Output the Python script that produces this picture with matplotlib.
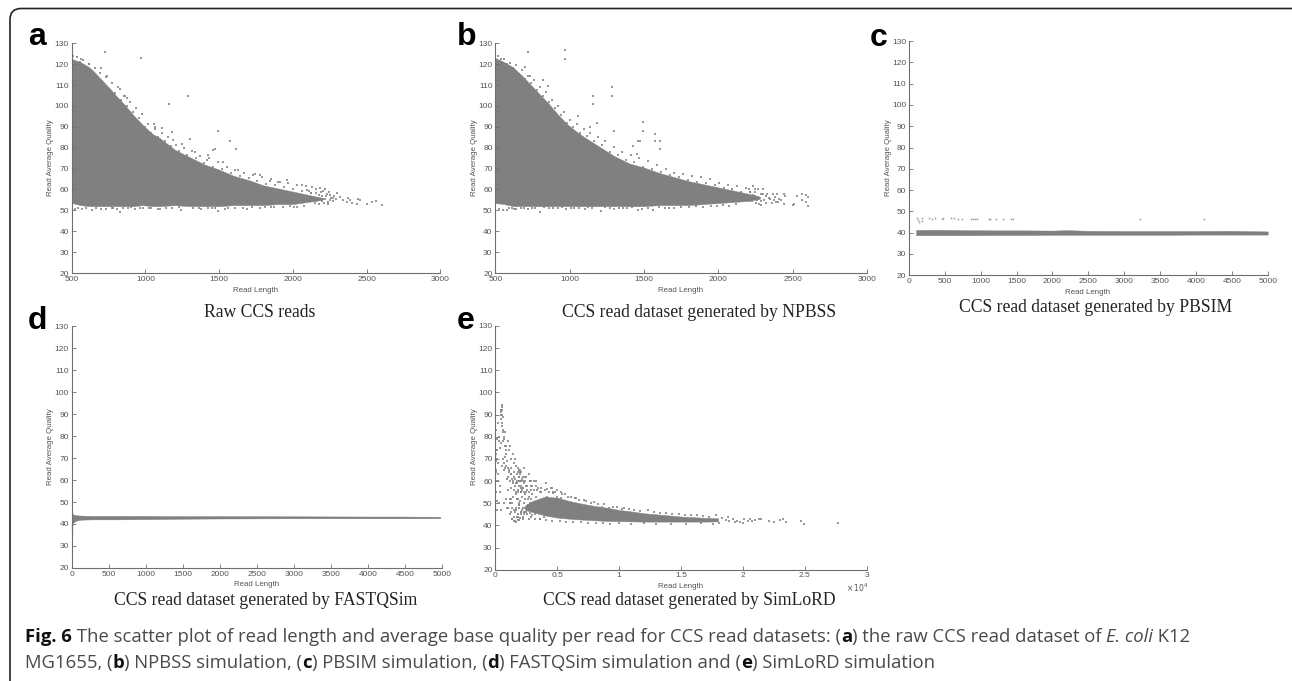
import matplotlib
matplotlib.use("Agg")
import matplotlib.pyplot as plt
from matplotlib.patches import FancyBboxPatch

GRAY = '#808080'
AXC = '#6e6e6e'
TXT = '#555555'

y_ticks = [20, 30, 40, 50, 60, 70, 80, 90, 100, 110, 120, 130]
ticks_ab = [500, 1000, 1500, 2000, 2500, 3000]
ticks_cd = [0, 500, 1000, 1500, 2000, 2500, 3000, 3500, 4000, 4500, 5000]
ticks_e = [0, 5000, 10000, 15000, 20000, 25000, 30000]
ticklabels_e = ['0', '0.5', '1', '1.5', '2', '2.5', '3']

# Panel a: dense cloud outline, then the loose points around it
a_x = [500, 560, 620, 650, 710, 770, 800, 860, 920, 980, 1050, 1100, 1200, 1300, 1400, 1500, 1600, 1700, 1800, 1900, 2000, 2100, 2200]
a_top = [122.5, 121, 118.5, 116.5, 112, 107.5, 105, 100.5, 95.5, 91, 86.5, 84.5, 79, 75.5, 72, 69.5, 66.5, 64.5, 62, 60.5, 59, 57.5, 56]
a_low = [53.5, 52.5, 52, 52, 52, 52, 52, 52, 52, 52.5, 52, 52, 52.5, 52, 52, 52, 52.5, 52.5, 52.5, 53, 53, 54, 55]
a_edge_x = [510, 535, 555, 575, 595, 615, 635, 655, 675, 695, 715, 735, 755, 775, 795, 815, 835, 855, 875, 895,
            915, 935, 955, 975, 995, 1020, 1040, 1065, 1085, 1110, 1130, 1155, 1175, 1205, 1230, 1260, 1285, 1315, 1345, 1370,
            1400, 1430, 1460, 1490, 1520, 1550, 1580, 1610, 1640, 1670, 1700, 1730, 1760, 1790, 1820, 1850, 1880, 1910, 1940, 1970,
            2000, 2030, 2060, 2090, 2120]
a_edge_y = [124, 123.5, 121, 122, 118, 120, 116.5, 118, 113.5, 116, 110.5, 114, 108, 111, 106, 109, 103, 105, 100, 102,
            97, 99, 94, 96, 90, 91.5, 87, 89, 85, 87, 83, 85, 81, 81.5, 78.5, 80, 76.5, 78.5, 75, 76,
            72.5, 75, 71, 73, 70, 71, 68, 69.5, 66.5, 68, 65.5, 67, 64, 66, 62.5, 65, 62, 63.5, 61, 63,
            60, 62, 59.5, 61.5, 58.5]
a_px = [726, 968, 1158, 1289, 1492, 1574, 1612, 1461, 1472, 1427, 1302, 1178, 1115, 1058, 1065, 873, 862, 828, 737, 699, 620, 563,
        2607, 2564, 2534, 2500, 2455, 2433, 2444, 2387, 2376, 2399, 2365, 2297, 2320, 2342, 2252, 2207, 2184, 2128, 2094, 2060,
        1958, 1902, 1845, 1777, 1743, 1630, 1528, 1415, 1336, 1246, 1190, 2280, 2270, 2260, 2240, 2230, 2220, 2210, 2200, 2190,
        2175, 2165, 2155, 2250, 2235, 2215, 2195, 2180, 2160, 2150, 2140, 2125, 2110, 2290, 2275, 2245, 2225, 2205,
        520, 545, 570, 600, 640, 665, 700, 735, 775, 825, 880, 930, 985, 1040, 1100, 1180, 1240, 1320, 1380, 1450, 1490, 1540, 1610, 1690, 1780, 1850, 1935, 2010,
        780, 810, 845, 905, 965, 1025, 1085, 1140, 1225, 1365, 1425, 1475, 1560, 1660, 1720, 1810, 1875, 1980, 2030, 2075]
a_py = [126, 122.8, 100.8, 105, 88.2, 83.2, 79.2, 79, 79.4, 76.5, 84, 87.7, 89.3, 91.4, 90, 104, 105, 108, 114.4, 118.3, 120, 122.5,
        52.4, 54.3, 54, 53, 55, 53, 55.5, 55, 55.8, 53.4, 54, 58.5, 56.5, 55, 57.4, 59.4, 60.9, 61, 59.7, 62,
        64.5, 63.7, 64.2, 67, 67.3, 69.3, 73, 74, 78, 82, 83.7, 57, 54.5, 56, 54, 58, 55.5, 53.5, 57, 59,
        53.2, 56, 58.5, 55, 53, 60, 54.7, 57.2, 60, 53.5, 55, 58.2, 59.5, 55.2, 55.7, 58.6, 57.1, 55.4,
        50.8, 51.3, 50.6, 51, 50.2, 51.2, 50.7, 50.5, 50.9, 49.3, 51, 50.7, 50.9, 51.2, 50.6, 51, 50.4, 51.2, 50.7, 50.9, 49.9, 50.6, 51.2, 50.6, 51.3, 51.4, 51.6, 51.5,
        51.3, 50.8, 51, 51.4, 51, 51.1, 50.8, 51.3, 51.4, 50.9, 51.2, 50.9, 51.2, 51.3, 51.5, 51.7, 51.4, 52, 51.8, 52.2]

# Panel b
b_x = [500, 560, 620, 680, 740, 800, 860, 920, 980, 1050, 1100, 1200, 1300, 1400, 1500, 1600, 1700, 1800, 1900, 2000, 2100, 2200, 2280]
b_top = [123, 121, 118.5, 114.5, 110, 105.5, 101, 96, 91.5, 87.5, 85, 80.5, 76, 72.5, 70.5, 68, 66, 64, 62.5, 61, 59.5, 58, 56.5]
b_low = [53.5, 53, 52, 52, 52, 52, 52, 52, 52, 52, 52, 52, 52, 52, 52, 52.5, 52.5, 52.5, 53, 53.5, 54, 54.5, 55.5]
b_edge_x = [515, 540, 560, 580, 600, 620, 640, 660, 680, 700, 720, 740, 760, 780, 800, 820, 840, 860, 880, 900,
            920, 940, 960, 980, 1000, 1025, 1050, 1070, 1095, 1115, 1140, 1165, 1190, 1215, 1240, 1270, 1295, 1325, 1350, 1380,
            1410, 1435, 1465, 1495, 1525, 1555, 1585, 1615, 1645, 1675, 1705, 1735, 1765, 1795, 1825, 1855, 1885, 1915, 1945, 1975,
            2005, 2035, 2065, 2095, 2125, 2155, 2185, 2215, 2245]
b_edge_y = [124, 122.5, 122.5, 120, 120.5, 118, 119.5, 115.5, 117, 113, 114.5, 111, 112.5, 107.5, 109, 105, 106.5, 102, 103, 99,
            100, 95.5, 97, 92, 93.5, 90, 91.5, 87, 89, 85.5, 87, 83, 85, 81.5, 83, 78, 80.5, 76.5, 78, 74,
            76.5, 73, 75, 71, 73.5, 70, 71.5, 68.5, 70, 67, 68, 66, 67.5, 64.5, 66.5, 63.5, 66, 63, 65, 62,
            63, 60.5, 62, 60, 61.5, 59, 60.5, 59, 60]
b_px = [722, 969, 969, 697, 1159, 1159, 1287, 1287, 1491, 1491, 1574, 1574, 1608, 1608, 1457, 1473, 1428, 1451, 1300, 1182, 1137, 1058, 823, 856, 733,
        2605, 2605, 2590, 2590, 2565, 2560, 2530, 2510, 2500, 2450, 2440, 2445, 2420, 2395, 2390, 2380, 2370, 2360, 2340, 2330, 2320, 2310, 2300, 2300, 2290,
        2285, 2270, 2265, 2255, 2250, 2240, 2235, 2225, 2215, 2205, 2290, 2260, 2230, 2275, 2245, 2320, 2350, 2405, 2400, 2375,
        525, 550, 580, 610, 640, 670, 720, 770, 800, 860, 920, 975, 1030, 1100, 1150, 1210, 1270, 1330, 1385, 1460, 1490, 1560, 1640, 1705, 1800, 1900, 1990, 2070,
        590, 625, 690, 745, 830, 890, 950, 1010, 1065, 1125, 1240, 1300, 1360, 1420, 1525, 1600, 1670, 1750, 1850, 1950, 2030, 2120]
b_py = [126, 126.8, 122.5, 118.8, 104.7, 100.8, 108.9, 104.7, 92.1, 88, 86.8, 83.2, 83.2, 79.3, 83, 83, 81, 77, 88, 92, 90, 95, 112.5, 109.5, 114.5,
        56.5, 52.3, 54, 57.5, 58, 55, 57, 53, 52.5, 57, 53, 58, 55, 57.7, 54, 56.5, 58, 53.5, 56, 58, 53.7, 55, 58, 60.4, 54.5,
        58, 56.5, 60, 53.5, 58.7, 56, 61.5, 54.3, 58.7, 60, 52.8, 55, 57.3, 53.2, 57, 57, 55.5, 55.2, 54, 55,
        50.8, 50.4, 50.2, 50.9, 50.5, 51, 50.7, 50.9, 49.3, 50.9, 51, 50.8, 50.9, 50.6, 51, 49.8, 50.9, 51, 50.9, 50.2, 50.8, 50.4, 51.1, 51, 51.6, 51.4, 52, 52.2,
        51.2, 50.8, 51.3, 51, 51.4, 51.2, 51.4, 51, 51.3, 51.5, 51.4, 50.8, 51.2, 51.5, 51.3, 51.6, 51.2, 51.7, 52, 52.3, 52.5, 53]

# Panel c
c_x = [100, 400, 800, 1200, 1600, 2000, 2200, 2500, 3000, 3500, 4000, 4500, 5000]
c_top = [41.3, 41.4, 41.2, 41.1, 41.1, 41, 41.2, 40.9, 40.8, 40.8, 40.8, 40.9, 40.6]
c_low = [38.8, 38.8, 38.8, 38.9, 38.9, 39, 39, 39, 39, 39, 39.1, 39.1, 39.1]
c_px = [116, 130, 177, 144, 181, 279, 325, 367, 455, 479, 581, 632, 688, 734, 860, 888, 920, 948, 1111, 1130, 1208, 1310, 1417, 1450, 3220, 4113]
c_py = [47, 46, 46.8, 45, 45.5, 47, 46.4, 47, 46.3, 46.8, 47, 47, 46.4, 46.3, 46.3, 46.3, 46.3, 46.3, 46.3, 46.6, 46.3, 46.4, 46.3, 46.6, 46.6, 46.6]

# Panel d
d_x = [0, 15, 30, 60, 100, 150, 300, 600, 1000, 1300, 1500, 2000, 3000, 4000, 4400, 4970]
d_top = [44.7, 44.7, 44.2, 44, 43.9, 43.8, 43.7, 43.7, 43.7, 43.6, 43.6, 43.6, 43.5, 43.4, 43.4, 43.3]
d_low = [40, 40.5, 41, 41.5, 41.8, 42, 42.1, 42.1, 42.2, 42.3, 42.4, 42.5, 42.6, 42.6, 42.6, 42.6]
d_px = [5, 8, 12, 15, 4, 22, 30, 40, 55]
d_py = [39, 38, 39.5, 40.2, 37, 40.8, 41, 41.4, 41.6]

# Panel e
e_x = [2400, 3000, 4000, 5000, 6000, 7000, 8000, 9000, 10000, 11000, 12000, 13000, 14000, 15000, 16000, 17000, 18000]
e_top = [49, 51, 53, 52.5, 51, 49.8, 48.8, 48, 47, 46.3, 45.5, 45, 44.5, 44, 43.7, 43.4, 43.2]
e_low = [47, 46, 44.5, 43.5, 43, 42.6, 42.3, 42, 41.9, 41.8, 41.7, 41.7, 41.7, 41.7, 41.7, 41.7, 41.8]
e_px = [450, 480, 500, 520, 540, 560, 580, 600, 470, 510, 550, 590, 300, 320, 440, 380, 90, 60, 50, 30, 120, 640, 720, 560, 680, 750,
        180, 240, 350, 410, 630, 700, 780, 830, 890, 980, 1040, 620, 770, 860, 1130, 1250, 910, 1020, 1090, 1160, 1230, 1300, 1370, 1450,
        1500, 1590, 1650, 1720, 1790, 1870, 1940, 1990, 2030, 2060, 2100, 2140, 2170, 2210, 2240, 2300, 2340, 2360,
        1850, 1900, 1960, 2010, 1880, 1920, 2050, 2090, 1760, 1820,
        1300, 1400, 1520, 1610, 1690, 1510, 1420, 1750, 1150, 1250, 1350, 2500, 2800, 3300, 3700, 4100, 4600, 5000, 5400, 5900, 6500, 7200, 8000, 8800, 9500, 10400,
        1650, 1750, 1880, 1950, 2050, 2180, 2280, 2380, 2500, 2650, 2750, 2850, 2950, 1700, 1820, 1920, 2020, 2120, 2220, 2320, 2420, 2520, 2620, 2720, 2820, 2920,
        1560, 1620, 1780, 1850, 2000, 2100, 2260, 2420, 2560, 2700, 2800, 2900, 3000, 1040, 1180, 1320, 1480, 1640, 1800, 1900, 2050, 2200, 2350, 2600, 3200, 3600, 3900, 4300, 4700,
        1200, 1350, 1500, 1650, 1800, 1950, 2100, 2250, 2400, 2550, 2700, 2850, 3000, 3150, 3300, 3450, 3600, 3750, 3900, 4050, 4200, 4350, 4500, 4650, 4800, 4950, 5100, 5300, 5500]
e_py = [91, 90, 92, 94.5, 93.5, 92, 90, 89, 88, 86, 85, 82, 80, 78, 77, 75, 74, 72, 69, 65, 70, 70, 68, 67, 65, 66,
        63, 60, 58, 55, 83, 79, 76, 74, 72, 69, 66, 78, 71, 67, 65, 63, 61, 62, 64, 60, 66, 63, 61, 59,
        64, 61, 59, 60, 63, 56, 62, 64, 60, 55, 58, 61, 56, 57, 60, 59, 55, 62,
        55, 58, 60, 63, 60, 62, 60, 57, 59, 64,
        57, 60, 62, 58, 55, 56, 53, 52, 50, 52, 48, 58, 60, 60, 57, 59, 57, 56, 54, 53, 52.5, 51.5, 50.5, 49.5, 48.5, 47.8,
        54, 52, 50, 48, 46, 53, 50, 52, 55, 52, 55, 52, 50, 47, 45, 49, 51, 47, 44, 46, 48, 46, 49, 53, 50, 56,
        42, 46, 44, 42.5, 43.5, 45, 43, 46, 45, 43, 45.5, 44, 44.5, 48, 45, 43, 42, 41.5, 44, 42.5, 46, 48, 45, 56, 45, 43, 44, 55, 55,
        52, 50, 47, 48, 52, 49, 55, 57, 54, 47, 49, 58, 54, 56, 53, 57, 55, 51, 52, 56, 53, 49, 51, 54.5, 48, 53, 52, 52.5, 51]
e_tail_x = [18300, 18600, 18900, 19200, 19500, 19800, 20100, 20400, 20700, 21000, 21300, 21500, 22100, 22500, 23000, 23200, 23500, 24700, 24900, 27700,
            18100, 18800, 19400, 20000, 20600, 3400, 3700, 4200, 4500, 4800, 5300, 5600, 6100, 6400, 6800, 7300, 7700, 8300, 8600, 9200, 9800, 10200, 10800,
            11200, 11700, 12300, 12800, 13300, 13800, 14300, 14800, 15300, 15800, 16300, 16800, 17300, 17800,
            3200, 3600, 4100, 4600, 5200, 5700, 6300, 6900, 7500, 8100, 8700, 9300, 10000, 11000, 12000, 13000, 14200, 15400, 16600, 17600]
e_tail_y = [43.5, 42.5, 42, 43, 42.2, 41.5, 42.8, 42, 41.8, 42.5, 42.8, 43, 42, 41.7, 42.5, 42.8, 41.6, 41.8, 40.5, 41,
            41, 43.8, 41.5, 41, 43, 56, 55, 56.5, 57, 55, 55, 54, 53, 52.5, 51.5, 51, 50, 49.5, 48.5, 48, 48.5, 47.5, 47.5,
            47, 46.5, 46.8, 46, 45.5, 45.8, 45, 45, 44.8, 44.5, 44.7, 44.3, 44, 44.5,
            43, 43, 42.5, 42, 42, 41.7, 41.5, 41.5, 41.3, 41, 41.2, 40.8, 41, 40.7, 41, 40.6, 40.8, 40.7, 40.9, 40.8]
e_left_x = [100, 150, 80, 120, 60, 200, 150, 100, 70, 220, 300, 800, 1000, 1200, 1400, 1100, 900, 700, 1300, 1500,
            1700, 1900, 2100, 2300, 2500, 2700, 2900, 1600, 1800, 2000, 2200, 2400, 2600, 2800, 3000, 3100, 3300, 1000, 1150, 1300,
            950, 1350, 1550, 500, 700, 850]
e_left_y = [47, 51, 55, 60, 64, 68, 74, 79, 83, 86, 50, 82, 78, 76, 72, 74, 76, 80, 70, 68,
            67, 65, 64, 66, 62, 63, 60, 70, 66, 65, 62, 60, 58, 60, 58, 60, 58, 56, 50, 46,
            48, 43, 44, 47, 50, 52]

plt.rcParams['font.family'] = ['Liberation Sans', 'DejaVu Sans']

fig = plt.figure(figsize=(12.92, 6.81), dpi=100)
W, H = 1292, 681


def make_panel(left, right, top, bottom, xlim, xticks, xticklabels=None):
    ax = fig.add_axes([left / W, 1 - bottom / H, (right - left) / W, (bottom - top) / H])
    ax.set_xlim(*xlim)
    ax.set_ylim(20, 130)
    ax.set_xticks(xticks)
    ax.set_yticks(y_ticks)
    if xticklabels:
        ax.set_xticklabels(xticklabels)
    ax.spines['top'].set_visible(False)
    ax.spines['right'].set_visible(False)
    for s in ['left', 'bottom']:
        ax.spines[s].set_color(AXC)
        ax.spines[s].set_linewidth(0.8)
    ax.tick_params(direction='in', length=3.2, width=0.6, color=AXC, labelcolor=TXT, labelsize=6, pad=2)
    ax.patch.set_alpha(0)
    return ax


def cloud(ax, x, top, low, px, py, ms=1.5):
    ax.fill_between(x, low, top, color=GRAY, lw=0.3)
    ax.plot(px, py, ls='none', marker='s', ms=ms, mew=0, color=GRAY, alpha=0.8, clip_on=False)


ax_a = make_panel(71.7, 440.3, 43.3, 273, (500, 3000), ticks_ab)
cloud(ax_a, a_x, a_top, a_low, a_px, a_py)
ax_a.plot(a_edge_x, a_edge_y, ls='none', marker='s', ms=1.6, mew=0, color=GRAY, alpha=0.8)

ax_b = make_panel(495.3, 867, 43.3, 273, (500, 3000), ticks_ab)
cloud(ax_b, b_x, b_top, b_low, b_px, b_py)
ax_b.plot(b_edge_x, b_edge_y, ls='none', marker='s', ms=1.6, mew=0, color=GRAY, alpha=0.8)

ax_c = make_panel(909, 1267.7, 41, 275.3, (0, 5000), ticks_cd)
cloud(ax_c, c_x, c_top, c_low, c_px, c_py, ms=1.1)

ax_d = make_panel(71.5, 442.3, 326, 568, (0, 5000), ticks_cd)
cloud(ax_d, d_x, d_top, d_low, d_px, d_py, ms=1.0)

ax_e = make_panel(495.3, 866.7, 326, 569.7, (0, 30000), ticks_e, ticklabels_e)
cloud(ax_e, e_x, e_top, e_low, e_px, e_py)
ax_e.plot(e_tail_x, e_tail_y, ls='none', marker='s', ms=1.5, mew=0, color=GRAY, alpha=0.8)
ax_e.plot(e_left_x, e_left_y, ls='none', marker='s', ms=1.5, mew=0, color=GRAY, alpha=0.8)

# Overlay in image pixels for the frame and all free text
ov = fig.add_axes([0, 0, 1, 1], zorder=5)
ov.set_xlim(0, W)
ov.set_ylim(H, 0)
ov.axis('off')
ov.add_patch(FancyBboxPatch((10, 8.5), 1300, 690, boxstyle='round,pad=0,rounding_size=11',
                            fc='none', ec='#222222', lw=1.2, clip_on=True))

for x, y, t in [(28, 45, 'a'), (457, 45, 'b'), (870, 46, 'c'), (28, 329, 'd'), (457, 329, 'e')]:
    ov.text(x, y, t, fontsize=23, fontweight='bold', color='black', va='baseline', ha='left')

for x, y in [(256, 290), (681, 290), (1088, 292), (257, 585), (681, 587)]:
    ov.text(x, y, 'Read Length', fontsize=5.7, color=TXT, ha='center', va='center')
for x, y in [(51, 158), (474, 158), (889, 158), (50, 447), (474, 447)]:
    ov.text(x, y, 'Read Average Quality', fontsize=5.7, color=TXT, ha='center', va='center', rotation=90)
ov.text(857, 588, r'$\times\,10^{4}$', fontsize=5.5, color=TXT, ha='center', va='center')

titles = [(260, 317, 'Raw CCS reads'),
          (699, 317, 'CCS read dataset generated by NPBSS'),
          (1096, 312, 'CCS read dataset generated by PBSIM'),
          (266, 605, 'CCS read dataset generated by FASTQSim'),
          (689, 605, 'CCS read dataset generated by SimLoRD')]
for x, y, t in titles:
    ov.text(x, y, t, family='Liberation Serif', fontsize=12.7, color='#222222', ha='center', va='baseline')

# Caption, written run by run so bold and italic parts stay inline
line1 = [('Fig. 6', 'bold', 'normal'), (' The scatter plot of read length and average base quality per read for CCS read datasets: (', 'light', 'normal'),
         ('a', 'bold', 'normal'), (') the raw CCS read dataset of ', 'light', 'normal'), ('E. coli', 'light', 'italic'), (' K12', 'light', 'normal')]
line2 = [('MG1655, (', 'light', 'normal'), ('b', 'bold', 'normal'), (') NPBSS simulation, (', 'light', 'normal'), ('c', 'bold', 'normal'),
         (') PBSIM simulation, (', 'light', 'normal'), ('d', 'bold', 'normal'), (') FASTQSim simulation and (', 'light', 'normal'),
         ('e', 'bold', 'normal'), (') SimLoRD simulation', 'light', 'normal')]
renderer = fig.canvas.get_renderer()
for y, runs in [(642, line1), (668, line2)]:
    x = 25
    for t, w, st in runs:
        weight = 'bold' if w == 'bold' else 'normal'
        color = '#111111' if w == 'bold' else '#4a4a4a'
        txt = ov.text(x, y, t.replace(' ', '\u00a0'), family='Open Sans', fontsize=13.3, fontweight=weight, style=st,
                      color=color, va='baseline', ha='left')
        x += txt.get_window_extent(renderer).width

fig.savefig('out.png', dpi=100, facecolor='white')
